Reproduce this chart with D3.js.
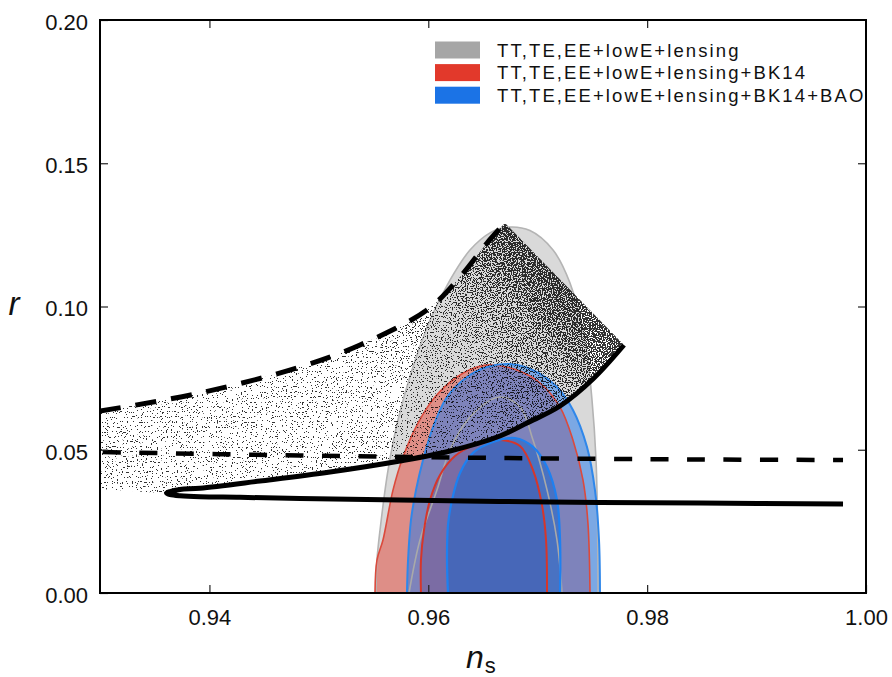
<!DOCTYPE html>
<html>
<head>
<meta charset="utf-8">
<script src="https://cdn.jsdelivr.net/npm/d3@7"></script>
<style>
  html, body { margin: 0; padding: 0; background: #fff; }
  svg { display: block; font-family: "Liberation Sans", Arial, Helvetica, sans-serif; }
</style>
</head>
<body>
<svg id="chart" width="892" height="677"></svg>
<script>
// ---- axes ----
const nsDomain = [0.93, 1.00];
const rDomain = [0, 0.20];
const xTickValues = [0.94, 0.96, 0.98, 1.00];
const yTickValues = [0.00, 0.05, 0.10, 0.15, 0.20];

// ---- legend ----
const legendLabels = [
  "TT,TE,EE+lowE+lensing",
  "TT,TE,EE+lowE+lensing+BK14",
  "TT,TE,EE+lowE+lensing+BK14+BAO"
];
const legendColors = ["#a6a6a6", "#e2392b", "#1b73e6"];

// ---- constraint contours [n_s, r] (68% inner / 95% outer) ----
const planckOuter = [
  [0.95522, 0.0000], [0.95531, 0.0115], [0.95559, 0.0220], [0.95632, 0.0429],
  [0.95723, 0.0604], [0.95851, 0.0778], [0.96016, 0.0953], [0.96198, 0.1092],
  [0.96381, 0.1197], [0.96564, 0.1257], [0.96728, 0.1277], [0.96929, 0.1265],
  [0.97140, 0.1197], [0.97295, 0.1082], [0.97432, 0.0883], [0.97496, 0.0674],
  [0.97533, 0.0464], [0.97548, 0.0200], [0.97551, 0.0000]
];
const planckInner = [
  [0.95824, 0.0000], [0.95924, 0.0185], [0.96080, 0.0360], [0.96198, 0.0499],
  [0.96381, 0.0614], [0.96655, 0.0684], [0.96838, 0.0649], [0.96957, 0.0534],
  [0.97085, 0.0360], [0.97176, 0.0185], [0.97222, 0.0000]
];
const bk14Outer = [
  [0.95513, 0.0000], [0.95531, 0.0115], [0.95586, 0.0185], [0.95678, 0.0360],
  [0.95769, 0.0475], [0.95906, 0.0593], [0.96061, 0.0684], [0.96262, 0.0754],
  [0.96445, 0.0789], [0.96591, 0.0796], [0.96811, 0.0778], [0.97021, 0.0733],
  [0.97204, 0.0649], [0.97322, 0.0534], [0.97414, 0.0394], [0.97459, 0.0244],
  [0.97478, 0.0000]
];
const bk14Inner = [
  [0.95933, 0.0000], [0.95933, 0.0115], [0.95961, 0.0220], [0.96016, 0.0325],
  [0.96107, 0.0412], [0.96244, 0.0478], [0.96427, 0.0517], [0.96655, 0.0534],
  [0.96838, 0.0513], [0.96957, 0.0429], [0.97039, 0.0307], [0.97076, 0.0185],
  [0.97085, 0.0000]
];
const baoOuter = [
  [0.95805, 0.0000], [0.95815, 0.0115], [0.95842, 0.0255], [0.95888, 0.0360],
  [0.95952, 0.0464], [0.96034, 0.0569], [0.96171, 0.0684], [0.96354, 0.0754],
  [0.96537, 0.0789], [0.96747, 0.0799], [0.96957, 0.0778], [0.97176, 0.0719],
  [0.97322, 0.0639], [0.97450, 0.0510], [0.97523, 0.0360], [0.97560, 0.0185],
  [0.97569, 0.0000]
];
const baoInner = [
  [0.96180, 0.0000], [0.96171, 0.0115], [0.96180, 0.0237], [0.96217, 0.0325],
  [0.96290, 0.0419], [0.96409, 0.0489], [0.96591, 0.0527], [0.96792, 0.0541],
  [0.96957, 0.0510], [0.97085, 0.0440], [0.97176, 0.0325], [0.97204, 0.0185],
  [0.97204, 0.0000]
];

// ---- model predictions [n_s, r] ----
const upperDashed = [
  [0.93000, 0.06353], [0.93914, 0.06981], [0.94828, 0.07888], [0.95376, 0.08656],
  [0.95988, 0.09878], [0.96290, 0.11030], [0.96537, 0.12216], [0.96701, 0.12914]
];
const lowerDashed = [
  [0.93000, 0.04921], [0.94828, 0.04799], [0.96655, 0.04712], [0.98483, 0.04660],
  [0.99790, 0.04642]
];
const solidTrack = [
  [0.99790, 0.03106], [0.98483, 0.03141], [0.97112, 0.03176], [0.95741, 0.03246],
  [0.94828, 0.03298], [0.94279, 0.03340], [0.93914, 0.03361], [0.93731, 0.03396],
  [0.93640, 0.03438], [0.93608, 0.03483], [0.93640, 0.03539], [0.93731, 0.03613],
  [0.93914, 0.03658], [0.94462, 0.03909], [0.95102, 0.04223], [0.95741, 0.04607],
  [0.96198, 0.04956], [0.96655, 0.05480], [0.96902, 0.05934], [0.97204, 0.06527],
  [0.97505, 0.07469], [0.97788, 0.08656]
];
// lower edge of the sample cloud left of the turning point
const cloudFloor = 0.0363;
// relative sample density across the cloud (0 = far side, 1 = upper-right edge)
const cloudDensity = [[0, 0.355], [0.40, 0.358], [0.62, 0.37], [0.76, 0.41], [0.86, 0.47], [0.94, 0.53], [1, 0.58]];

// ---- layout ----
const M = { l: 100, r: 866, t: 20, b: 593 };
const svg = d3.select("#chart");
const x = d3.scaleLinear().domain(nsDomain).range([M.l, M.r]);
const y = d3.scaleLinear().domain(rDomain).range([M.b, M.t]);
const line = d3.line().x(d => x(d[0])).y(d => y(d[1])).curve(d3.curveCatmullRom.alpha(0.5));

const defs = svg.append("defs");
defs.append("clipPath").attr("id", "plotClip")
  .append("rect").attr("x", M.l).attr("y", M.t).attr("width", M.r - M.l).attr("height", M.b - M.t);

const plot = svg.append("g").attr("clip-path", "url(#plotClip)");

// ---- contours: fills first, outlines on top ----
const contours = [
  { pts: planckOuter, fill: "#d9d9d9", stroke: "#b4b4b4", sw: 1.6 },
  { pts: planckInner, fill: "none", stroke: "#a9a9a9", sw: 1.6 },
  { pts: bk14Outer, fill: "rgba(228,50,35,0.45)", stroke: "#db4a3c", sw: 1.6 },
  { pts: bk14Inner, fill: "rgba(210,40,30,0.45)", stroke: "#d5362b", sw: 2 },
  { pts: baoOuter, fill: "rgba(30,120,240,0.5)", stroke: "#2f87ea", sw: 2 },
  { pts: baoInner, fill: "rgba(30,100,200,0.55)", stroke: "#1e80f0", sw: 2.2 }
];
const cg = plot.append("g");
cg.selectAll("path.fill").data(contours).join("path")
  .attr("class", "fill")
  .attr("d", c => line(c.pts) + "Z")
  .attr("fill", c => c.fill)
  .attr("stroke", "none");
cg.selectAll("path.edge").data(contours).join("path")
  .attr("class", "edge")
  .attr("d", c => line(c.pts) + "Z")
  .attr("fill", "none")
  .attr("stroke", c => c.stroke)
  .attr("stroke-width", c => c.sw);

// ---- sample cloud between the dashed upper bound and the solid track ----
const tipIdx = d3.minIndex(solidTrack, d => d[0]);
const upperBranch = solidTrack.slice(tipIdx).reverse();
const bandPath = line(upperDashed)
  + line(upperBranch).replace(/^M/, "L")
  + "L" + x(nsDomain[0]) + "," + y(cloudFloor) + "Z";
defs.append("clipPath").attr("id", "cloudClip").append("path").attr("d", bandPath);

// density ramps towards the edge joining the two curve ends
const A = [x(upperDashed[upperDashed.length - 1][0]), y(upperDashed[upperDashed.length - 1][1])];
const B = [x(solidTrack[solidTrack.length - 1][0]), y(solidTrack[solidTrack.length - 1][1])];
const mid = [(A[0] + B[0]) / 2, (A[1] + B[1]) / 2];
let nx = B[1] - A[1], ny = -(B[0] - A[0]);
const nl = Math.hypot(nx, ny); nx /= nl; ny /= nl;
const span = 480;
const grad = defs.append("linearGradient").attr("id", "cloudGrad")
  .attr("gradientUnits", "userSpaceOnUse")
  .attr("x1", mid[0] - nx * span).attr("y1", mid[1] - ny * span)
  .attr("x2", mid[0]).attr("y2", mid[1]);
grad.selectAll("stop").data(cloudDensity).join("stop")
  .attr("offset", d => d[0])
  .attr("stop-color", d => { const v = Math.round(d[1] * 255); return `rgb(${v},${v},${v})`; });

// grain texture: fine noise plus local density, thresholded to seeds, then softened into dots
const f = defs.append("filter").attr("id", "speckle")
  .attr("filterUnits", "userSpaceOnUse")
  .attr("x", M.l).attr("y", M.t).attr("width", M.r - M.l).attr("height", M.b - M.t)
  .attr("color-interpolation-filters", "sRGB");
f.append("feTurbulence").attr("type", "fractalNoise").attr("baseFrequency", 0.8)
  .attr("numOctaves", 1).attr("seed", 5).attr("result", "noise");
f.append("feColorMatrix").attr("in", "noise").attr("type", "matrix")
  .attr("values", "1 0 0 0 0  1 0 0 0 0  1 0 0 0 0  0 0 0 0 1").attr("result", "grey");
f.append("feComposite").attr("in", "grey").attr("in2", "SourceGraphic")
  .attr("operator", "arithmetic").attr("k1", 0).attr("k2", 1).attr("k3", 1).attr("k4", -1)
  .attr("result", "sum");
f.append("feColorMatrix").attr("in", "sum").attr("type", "matrix")
  .attr("values", "0 0 0 0 0  0 0 0 0 0  0 0 0 0 0  30 0 0 0 0").attr("result", "seeds");
f.append("feGaussianBlur").attr("in", "seeds").attr("stdDeviation", 0.75).attr("result", "soft");
const ct = f.append("feComponentTransfer").attr("in", "soft");
ct.append("feFuncA").attr("type", "linear").attr("slope", 2.8).attr("intercept", 0);

plot.append("g").attr("clip-path", "url(#cloudClip)").attr("opacity", 0.8)
  .append("rect")
  .attr("x", M.l).attr("y", M.t).attr("width", M.r - M.l).attr("height", M.b - M.t)
  .attr("fill", "url(#cloudGrad)")
  .attr("filter", "url(#speckle)");

// ---- model curves ----
plot.append("path").attr("d", line(lowerDashed))
  .attr("fill", "none").attr("stroke", "#000").attr("stroke-width", 4.5)
  .attr("stroke-dasharray", "18,18.5").attr("stroke-dashoffset", -3);
plot.append("path").attr("d", line(upperDashed))
  .attr("fill", "none").attr("stroke", "#000").attr("stroke-width", 5)
  .attr("stroke-dasharray", "21,15");
plot.append("path").attr("d", line(solidTrack))
  .attr("fill", "none").attr("stroke", "#000").attr("stroke-width", 5)
  .attr("stroke-linejoin", "round");

// ---- axes ----
const fmt = d3.format(".2f");
function styleAxis(g) {
  g.select(".domain").remove();
  g.selectAll(".tick line").attr("stroke", "#222").attr("stroke-width", 1.2);
  g.selectAll(".tick text").attr("font-size", 22).attr("fill", "#111")
    .attr("font-family", "'Liberation Sans', Arial, Helvetica, sans-serif");
}
svg.append("g").attr("transform", `translate(0,${M.b})`)
  .call(d3.axisBottom(x).tickValues(xTickValues).tickFormat(fmt).tickSizeInner(-8).tickSizeOuter(0).tickPadding(16))
  .call(styleAxis);
svg.append("g").attr("transform", `translate(${M.l},0)`)
  .call(d3.axisLeft(y).tickValues(yTickValues).tickFormat(fmt).tickSizeInner(-8).tickSizeOuter(0).tickPadding(12))
  .call(styleAxis)
  .call(g => g.selectAll(".tick text").attr("dy", "0.42em"));
svg.append("g").attr("transform", `translate(0,${M.t})`)
  .call(d3.axisTop(x).tickValues(xTickValues.slice(0, 3)).tickFormat("").tickSizeInner(-8).tickSizeOuter(0))
  .call(styleAxis);
svg.append("g").attr("transform", `translate(${M.r},0)`)
  .call(d3.axisRight(y).tickValues(yTickValues.slice(1, 4)).tickFormat("").tickSizeInner(-8).tickSizeOuter(0))
  .call(styleAxis);

svg.append("rect").attr("x", M.l).attr("y", M.t).attr("width", M.r - M.l).attr("height", M.b - M.t)
  .attr("fill", "none").attr("stroke", "#000").attr("stroke-width", 2);

// axis titles
svg.append("text").attr("x", 14).attr("y", 315).attr("text-anchor", "middle")
  .attr("font-size", 33).attr("font-style", "italic").attr("fill", "#111").text("r");
const xt = svg.append("text").attr("x", 466).attr("y", 668).attr("font-size", 32).attr("fill", "#111");
xt.append("tspan").attr("font-style", "italic").text("n");
xt.append("tspan").attr("font-size", 22).attr("dx", 1).attr("dy", 5).text("s");

// ---- legend ----
const lg = svg.append("g");
const rowY = i => 50 + i * 22.6;
lg.selectAll("rect").data(legendColors).join("rect")
  .attr("x", 435).attr("y", (d, i) => rowY(i) - 8.5).attr("width", 45).attr("height", 17)
  .attr("fill", d => d);
lg.selectAll("text").data(legendLabels).join("text")
  .attr("x", 497).attr("y", (d, i) => rowY(i) + 6.6)
  .attr("font-size", 18.5).attr("letter-spacing", 2.1).attr("fill", "#111")
  .text(d => d);
</script>
</body>
</html>
